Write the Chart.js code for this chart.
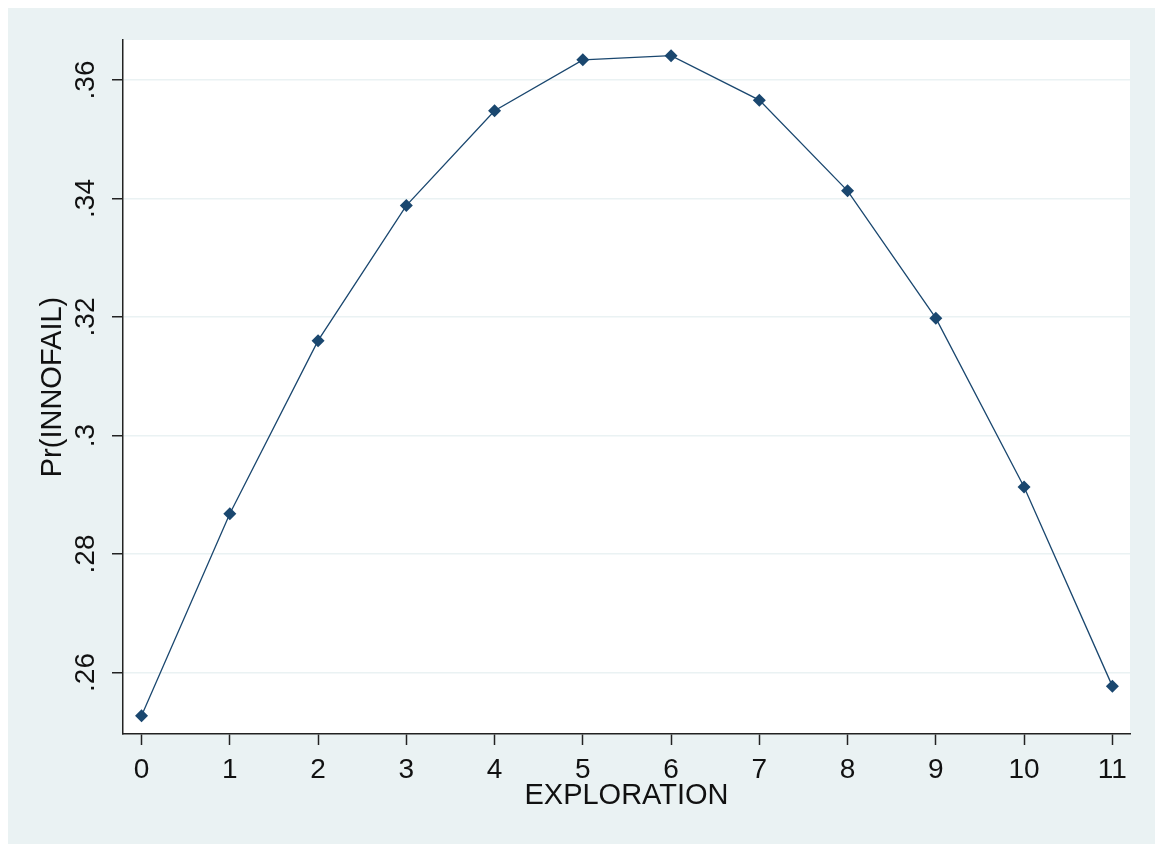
<!DOCTYPE html>
<html>
<head>
<meta charset="utf-8">
<script src="https://cdn.jsdelivr.net/npm/chart.js@4"></script>
<style>
  html, body { margin: 0; padding: 0; background: #ffffff; }
  #wrap { width: 1155px; height: 844px; position: relative; }
</style>
</head>
<body>
<div id="wrap"><canvas id="c" width="1155" height="844"></canvas></div>
<script>
// ---- data ----
const exploration = [0, 1, 2, 3, 4, 5, 6, 7, 8, 9, 10, 11];
const prInnofail = [0.2527, 0.2868, 0.3160, 0.3388, 0.3548, 0.3634, 0.3641, 0.3566, 0.3413, 0.3198, 0.2913, 0.2577];
const xTickValues = [0, 1, 2, 3, 4, 5, 6, 7, 8, 9, 10, 11];
const yTickValues = [0.26, 0.28, 0.30, 0.32, 0.34, 0.36];
const yTickLabels = ['.26', '.28', '.3', '.32', '.34', '.36'];
const xTitle = 'EXPLORATION';
const yTitle = 'Pr(INNOFAIL)';

const BG = '#EAF2F3';
const LINE = '#1a476f';
const FONT = "'Liberation Sans', Arial, sans-serif";

const backgroundPlugin = {
  id: 'bg',
  beforeDraw(chart) {
    const ctx = chart.ctx, a = chart.chartArea;
    ctx.save();
    ctx.fillStyle = '#ffffff';
    ctx.fillRect(0, 0, chart.width, chart.height);
    ctx.fillStyle = BG;
    ctx.fillRect(8, 8, chart.width - 8, chart.height - 8);
    ctx.fillStyle = '#ffffff';
    ctx.fillRect(a.left, a.top, a.right - a.left, a.bottom - a.top);
    ctx.restore();
  }
};

const yLabelPlugin = {
  id: 'ylabels',
  afterDraw(chart) {
    const ctx = chart.ctx, ys = chart.scales.y;
    ctx.save();
    ctx.fillStyle = '#111111';
    ctx.font = '28px ' + FONT;
    ctx.textAlign = 'center';
    ctx.textBaseline = 'alphabetic';
    yTickValues.forEach((v, i) => {
      const py = ys.getPixelForValue(v);
      ctx.save();
      ctx.translate(94, py);
      ctx.rotate(-Math.PI / 2);
      ctx.fillText(yTickLabels[i], 0, 0);
      ctx.restore();
    });
    ctx.restore();
  }
};

new Chart(document.getElementById('c'), {
  type: 'line',
  data: {
    datasets: [{
      data: exploration.map((x, i) => ({ x: x, y: prInnofail[i] })),
      borderColor: LINE,
      backgroundColor: LINE,
      borderWidth: 1.3,
      pointStyle: 'rectRot',
      pointRadius: 6.5,
      pointBorderWidth: 0,
      pointBackgroundColor: LINE,
      tension: 0,
      fill: false
    }]
  },
  options: {
    responsive: false,
    animation: false,
    devicePixelRatio: 1,
    layout: { padding: { top: 40, right: 25, left: 0, bottom: 0 } },
    plugins: {
      legend: { display: false },
      tooltip: { enabled: false }
    },
    scales: {
      x: {
        type: 'linear',
        min: -0.21,
        max: 11.2,
        afterBuildTicks(s) { s.ticks = xTickValues.map(v => ({ value: v })); },
        afterFit(s) { s.height = 110; },
        grid: {
          drawOnChartArea: false,
          drawTicks: true,
          tickLength: 11,
          tickColor: '#222222',
          tickWidth: 1.5
        },
        border: { color: '#222222', width: 1.5 },
        ticks: {
          color: '#111111',
          font: { family: FONT, size: 28 },
          padding: 8,
          maxRotation: 0,
          autoSkip: false,
          callback: v => String(v)
        },
        title: {
          display: true,
          text: xTitle,
          color: '#111111',
          font: { family: FONT, size: 29 },
          padding: { top: 0, bottom: 31 }
        }
      },
      y: {
        type: 'linear',
        min: 0.24962,
        max: 0.36675,
        afterBuildTicks(s) { s.ticks = yTickValues.map(v => ({ value: v })); },
        afterFit(s) { s.width = 123; },
        grid: {
          color: BG,
          lineWidth: 1.5,
          drawTicks: true,
          tickLength: 11,
          tickColor: '#222222',
          tickWidth: 1.5
        },
        border: { color: '#222222', width: 1.5 },
        ticks: { display: false },
        title: {
          display: true,
          text: yTitle,
          color: '#111111',
          font: { family: FONT, size: 29 },
          padding: { top: 36, bottom: 0 }
        }
      }
    }
  },
  plugins: [backgroundPlugin, yLabelPlugin]
});
</script>
</body>
</html>
